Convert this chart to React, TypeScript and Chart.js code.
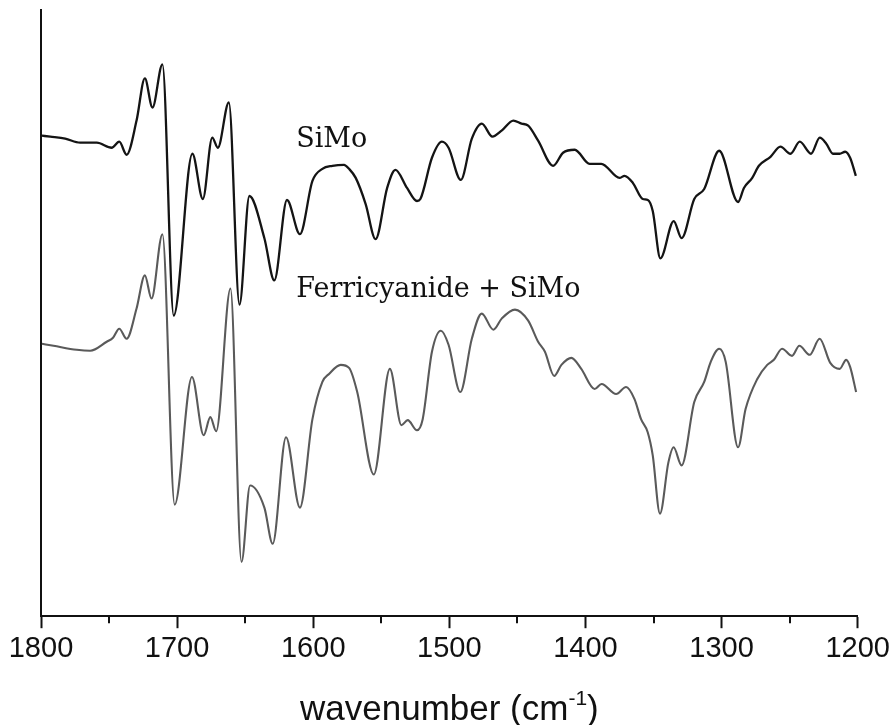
import React, { useEffect, useRef } from "react";
import { Chart, registerables } from "chart.js";

Chart.register(...registerables);

// SiMo spectrum: wavenumber (cm-1) and signal (a.u.)
const simoWavenumber = [
  1799.3, 1793.2, 1782.2, 1771.3, 1759.0, 1748.1, 1742.5, 1737.1, 1729.8, 1723.7,
  1718.1, 1710.8, 1702.5, 1688.8, 1681.1, 1674.2, 1670.1, 1662.0, 1654.2, 1646.9,
  1635.9, 1628.6, 1619.3, 1609.8, 1600.6, 1593.3, 1585.9, 1577.4, 1573.7, 1568.8,
  1561.5, 1554.2, 1545.7, 1539.6, 1531.1, 1523.8, 1521.3, 1512.8, 1505.5, 1500.6,
  1491.6, 1483.5, 1476.2, 1468.4, 1461.6, 1453.0, 1447.0, 1442.1, 1434.8, 1423.8,
  1416.5, 1407.9, 1397.0, 1388.4, 1375.0, 1371.3, 1365.2, 1357.9, 1354.2, 1350.6,
  1345.0, 1335.2, 1329.4, 1320.1, 1312.8, 1301.8, 1287.9, 1283.6, 1277.5, 1272.6,
  1264.1, 1256.8, 1249.4, 1242.6, 1234.3, 1227.9, 1223.1, 1218.2, 1213.3, 1209.2,
  1205.6, 1201.4,
];
const simoSignal = [
  4.78, 4.77, 4.75, 4.71, 4.71, 4.66, 4.72, 4.59, 4.93, 5.35,
  5.06, 5.49, 2.99, 4.60, 4.15, 4.76, 4.66, 5.11, 3.10, 4.18,
  3.76, 3.34, 4.14, 3.80, 4.33, 4.45, 4.48, 4.49, 4.45, 4.36,
  4.10, 3.75, 4.26, 4.44, 4.26, 4.13, 4.15, 4.56, 4.72, 4.66,
  4.34, 4.75, 4.90, 4.77, 4.83, 4.93, 4.90, 4.88, 4.73, 4.48,
  4.61, 4.64, 4.50, 4.50, 4.36, 4.38, 4.31, 4.15, 4.14, 4.03,
  3.56, 3.93, 3.76, 4.15, 4.25, 4.63, 4.12, 4.26, 4.36, 4.48,
  4.57, 4.67, 4.60, 4.72, 4.60, 4.76, 4.70, 4.60, 4.60, 4.62,
  4.56, 4.38,
];

// Ferricyanide + SiMo spectrum
const ferriWavenumber = [
  1799.3, 1790.8, 1773.7, 1763.9, 1751.7, 1747.1, 1742.5, 1737.1, 1729.8, 1723.7,
  1718.8, 1710.8, 1701.8, 1689.1, 1680.5, 1675.6, 1671.3, 1660.8, 1652.7, 1646.4,
  1635.9, 1629.8, 1620.0, 1609.8, 1600.6, 1593.3, 1588.4, 1579.8, 1573.7, 1567.7,
  1555.5, 1543.7, 1535.2, 1530.6, 1523.8, 1519.6, 1512.8, 1506.2, 1500.6, 1492.0,
  1483.5, 1476.2, 1467.7, 1461.6, 1451.8, 1442.1, 1434.8, 1429.8, 1423.0, 1417.7,
  1410.4, 1403.1, 1393.3, 1388.2, 1377.5, 1370.2, 1364.0, 1359.2, 1354.3, 1350.6,
  1345.3, 1339.1, 1335.3, 1329.4, 1320.1, 1312.8, 1308.0, 1301.8, 1297.0, 1287.9,
  1282.4, 1273.8, 1266.5, 1261.6, 1255.6, 1248.3, 1242.9, 1235.3, 1228.0, 1220.2,
  1213.3, 1208.5, 1205.6, 1201.2,
];
const ferriSignal = [
  2.71, 2.69, 2.65, 2.64, 2.73, 2.77, 2.86, 2.76, 3.06, 3.39,
  3.16, 3.80, 1.11, 2.38, 1.80, 1.98, 1.84, 3.26, 0.54, 1.30,
  1.08, 0.72, 1.78, 1.08, 1.96, 2.33, 2.41, 2.50, 2.47, 2.23,
  1.41, 2.46, 1.90, 1.95, 1.85, 1.96, 2.63, 2.84, 2.70, 2.23,
  2.76, 3.01, 2.85, 2.96, 3.05, 2.94, 2.73, 2.63, 2.39, 2.50,
  2.57, 2.46, 2.26, 2.31, 2.21, 2.28, 2.16, 1.96, 1.83, 1.60,
  1.02, 1.53, 1.68, 1.50, 2.13, 2.33, 2.53, 2.66, 2.53, 1.68,
  2.06, 2.36, 2.50, 2.55, 2.66, 2.59, 2.69, 2.60, 2.76, 2.52,
  2.46, 2.55, 2.48, 2.23,
];

const seriesNames = ["SiMo", "Ferricyanide + SiMo"];
// Label anchors in data coordinates (wavenumber, signal at text baseline)
const labelWavenumber = [1612.5, 1612.5];
const labelSignal = [4.67, 3.18];

const majorTicks = [1800, 1700, 1600, 1500, 1400, 1300, 1200];
const minorTicks = [1750, 1650, 1550, 1450, 1350, 1250];
const axisTitle = "wavenumber (cm";
const axisTitleSup = "-1";

const toPoints = (xs: number[], ys: number[]) => xs.map((x, i) => ({ x, y: ys[i] }));

const curveLabels = {
  id: "curveLabels",
  afterDatasetsDraw(chart: any) {
    const { ctx, scales } = chart;
    ctx.save();
    ctx.font = '27px "DejaVu Serif"';
    ctx.fillStyle = "#111";
    ctx.textAlign = "left";
    ctx.textBaseline = "alphabetic";
    seriesNames.forEach((name, i) => {
      const px = scales.x.getPixelForValue(labelWavenumber[i]);
      const py = scales.y.getPixelForValue(labelSignal[i]);
      ctx.fillText(name, px, py);
    });
    ctx.restore();
  },
};

const minorTickMarks = {
  id: "minorTickMarks",
  afterDraw(chart: any) {
    const { ctx, scales, chartArea } = chart;
    ctx.save();
    ctx.strokeStyle = "#111";
    ctx.lineWidth = 2;
    minorTicks.forEach((v) => {
      const px = Math.round(scales.x.getPixelForValue(v));
      ctx.beginPath();
      ctx.moveTo(px, chartArea.bottom);
      ctx.lineTo(px, chartArea.bottom + 7);
      ctx.stroke();
    });
    ctx.restore();
  },
};

const wavenumberTitle = {
  id: "wavenumberTitle",
  afterDraw(chart: any) {
    const { ctx, chartArea } = chart;
    ctx.save();
    ctx.fillStyle = "#111";
    ctx.textBaseline = "alphabetic";
    ctx.textAlign = "left";
    const mainFont = '35px "Liberation Sans", Arial, sans-serif';
    const supFont = '21px "Liberation Sans", Arial, sans-serif';
    ctx.font = mainFont;
    const w1 = ctx.measureText(axisTitle).width;
    const w3 = ctx.measureText(")").width;
    ctx.font = supFont;
    const w2 = ctx.measureText(axisTitleSup).width;
    const total = w1 + w2 + w3;
    const cx = (chartArea.left + chartArea.right) / 2;
    const baseY = chart.height - 5;
    let x = cx - total / 2;
    ctx.font = mainFont;
    ctx.fillText(axisTitle, x, baseY);
    x += w1;
    ctx.font = supFont;
    ctx.fillText(axisTitleSup, x, baseY - 15);
    x += w2;
    ctx.font = mainFont;
    ctx.fillText(")", x, baseY);
    ctx.restore();
  },
};

export default function App() {
  const canvasRef = useRef<HTMLCanvasElement | null>(null);

  useEffect(() => {
    if (!canvasRef.current) return;
    const chart = new Chart(canvasRef.current, {
      type: "line",
      data: {
        datasets: [
          {
            label: seriesNames[0],
            data: toPoints(simoWavenumber, simoSignal),
            borderColor: "#141414",
            borderWidth: 2.3,
            pointRadius: 0,
            fill: false,
            cubicInterpolationMode: "monotone",
          },
          {
            label: seriesNames[1],
            data: toPoints(ferriWavenumber, ferriSignal),
            borderColor: "#5a5a5a",
            borderWidth: 2.1,
            pointRadius: 0,
            fill: false,
            cubicInterpolationMode: "monotone",
          },
        ],
      },
      options: {
        responsive: false,
        animation: false,
        devicePixelRatio: 1,
        layout: { padding: { left: 41, right: 32, top: 10, bottom: 56 } },
        plugins: {
          legend: { display: false },
          tooltip: { enabled: false },
        },
        scales: {
          x: {
            type: "linear",
            reverse: true,
            min: 1200,
            max: 1800,
            afterBuildTicks: (scale: any) => {
              scale.ticks = majorTicks.map((value) => ({ value }));
            },
            ticks: {
              color: "#111",
              font: { family: '"Liberation Sans", Arial, sans-serif', size: 29 },
              padding: 3,
              maxRotation: 0,
              autoSkip: false,
              callback: (v: any) => String(v),
            },
            grid: {
              display: true,
              drawOnChartArea: false,
              drawTicks: true,
              tickLength: 12,
              tickWidth: 2,
              tickColor: "#111",
            },
            border: { display: true, color: "#111", width: 2 },
          },
          y: {
            type: "linear",
            min: 0,
            max: 6.03,
            ticks: { display: false },
            grid: { display: false, drawTicks: false },
            border: { display: true, color: "#111", width: 2 },
          },
        },
      },
      plugins: [curveLabels, minorTickMarks, wavenumberTitle],
    });
    return () => chart.destroy();
  }, []);

  return (
    <div style={{ position: "absolute", left: 0, top: 0, width: 893, height: 725, background: "#fff" }}>
      <canvas ref={canvasRef} width={893} height={725} />
    </div>
  );
}
